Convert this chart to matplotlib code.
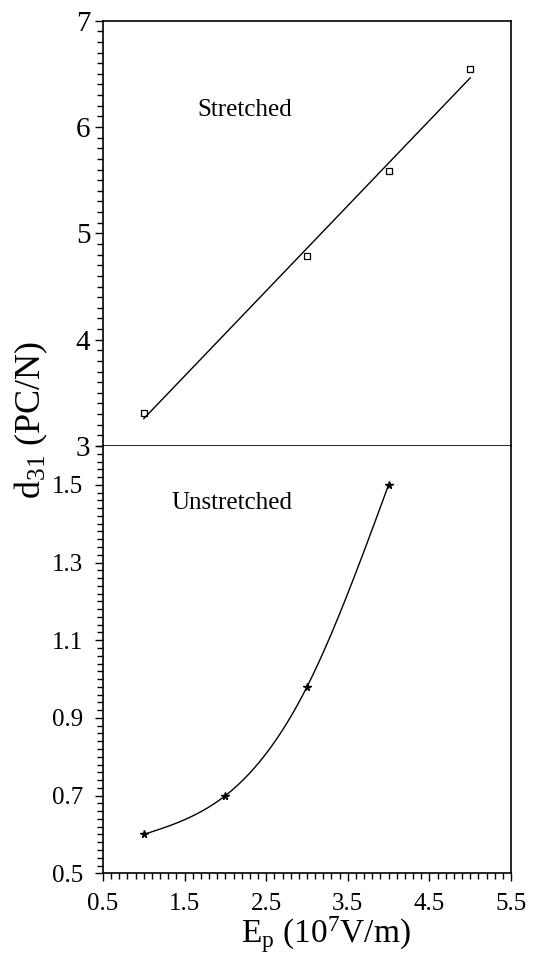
import numpy as np
import matplotlib
matplotlib.use("Agg")
import matplotlib.pyplot as plt
from matplotlib.ticker import MultipleLocator, FixedLocator, FormatStrFormatter

plt.rcParams['font.family'] = ['Liberation Serif', 'DejaVu Serif']
plt.rcParams['mathtext.fontset'] = 'custom'
plt.rcParams['mathtext.rm'] = 'Liberation Serif'
plt.rcParams['mathtext.it'] = 'Liberation Serif:italic'

# Data
stretched_x = [1, 3, 4, 5]
stretched_y = [3.31, 4.79, 5.59, 6.55]
unstretched_x = [1, 2, 3, 4]
unstretched_y = [0.60, 0.70, 0.98, 1.50]
x_ticks = [0.5, 1.5, 2.5, 3.5, 4.5, 5.5]
top_yticks = [3, 4, 5, 6, 7]
bottom_yticks = [0.5, 0.7, 0.9, 1.1, 1.3, 1.5]


def natural_spline(x, y, n=200):
    x = np.asarray(x, float)
    y = np.asarray(y, float)
    k = len(x)
    h = np.diff(x)
    A = np.zeros((k, k))
    b = np.zeros(k)
    A[0, 0] = 1
    A[-1, -1] = 1
    for i in range(1, k - 1):
        A[i, i - 1] = h[i - 1]
        A[i, i] = 2 * (h[i - 1] + h[i])
        A[i, i + 1] = h[i]
        b[i] = 6 * ((y[i + 1] - y[i]) / h[i] - (y[i] - y[i - 1]) / h[i - 1])
    M = np.linalg.solve(A, b)
    xs = np.linspace(x[0], x[-1], n)
    idx = np.clip(np.searchsorted(x, xs) - 1, 0, k - 2)
    xi, xi1 = x[idx], x[idx + 1]
    hi = h[idx]
    ys = (M[idx] * (xi1 - xs) ** 3 / (6 * hi) + M[idx + 1] * (xs - xi) ** 3 / (6 * hi)
          + (y[idx] / hi - M[idx] * hi / 6) * (xi1 - xs)
          + (y[idx + 1] / hi - M[idx + 1] * hi / 6) * (xs - xi))
    return xs, ys


fig = plt.figure(figsize=(5.49, 9.55), dpi=100)
left, width = 103 / 549, 408 / 549
mid = 1 - 446 / 955
top = 1 - 20.7 / 955
bot = 1 - 873.3 / 955
ax1 = fig.add_axes([left, mid, width, top - mid])
ax2 = fig.add_axes([left, bot, width, mid - bot], sharex=ax1)

lw = 1.0
for ax in (ax1, ax2):
    for s in ax.spines.values():
        s.set_linewidth(1.2)
    ax.tick_params(which='major', direction='out', length=6, width=1.0, right=False, top=False)
    ax.tick_params(which='minor', direction='out', length=4, width=1.0, right=False, top=False)

# Top panel
ax1.plot(stretched_x, stretched_y, linestyle='none', marker='s', markersize=4.5,
         markerfacecolor='white', markeredgecolor='black', markeredgewidth=0.9)
coef = np.polyfit(stretched_x, stretched_y, 1)
fx = np.array([stretched_x[0], stretched_x[-1]])
ax1.plot(fx, np.polyval(coef, fx), color='black', linewidth=lw)
ax1.set_ylim(3, 7)
ax1.yaxis.set_major_locator(FixedLocator(top_yticks))
ax1.yaxis.set_minor_locator(MultipleLocator(0.1))
ax1.yaxis.set_major_formatter(FormatStrFormatter('%d'))
ax1.tick_params(axis='y', labelsize=21, pad=3)
ax1.tick_params(axis='x', which='both', bottom=False, labelbottom=False)
ax1.text(1.652, 6.10, 'Stretched', fontsize=18, ha='left', va='baseline')

# Bottom panel
sx, sy = natural_spline(unstretched_x, unstretched_y)
ax2.plot(sx, sy, color='black', linewidth=lw)
ax2.plot(unstretched_x, unstretched_y, linestyle='none', marker='*', markersize=5.5,
         color='black')
ax2.set_ylim(0.5, 1.6)
ax2.yaxis.set_major_locator(FixedLocator(bottom_yticks))
ax2.yaxis.set_minor_locator(MultipleLocator(0.02))
ax2.yaxis.set_major_formatter(FormatStrFormatter('%.1f'))
ax2.tick_params(axis='y', labelsize=18, pad=8)
ax2.spines['top'].set_visible(False)
ax2.set_xlim(0.5, 5.5)
ax2.xaxis.set_major_locator(FixedLocator(x_ticks))
ax2.xaxis.set_minor_locator(MultipleLocator(0.1))
ax2.xaxis.set_major_formatter(FormatStrFormatter('%.1f'))
ax2.tick_params(axis='x', labelsize=18, pad=8)
ax2.text(1.333, 1.439, 'Unstretched', fontsize=18, ha='left', va='baseline')

fig.text(326 / 549, 1 - 943 / 955, r'E$_\mathrm{p}$ (10$^\mathrm{7}$V/m)', fontsize=24,
         ha='center', va='baseline')
fig.text(31 / 549, 1 - 420 / 955, r'd$_\mathrm{31}$ (PC/N)', fontsize=26,
         ha='center', va='center', rotation=90)

fig.savefig('out.png', dpi=100)
